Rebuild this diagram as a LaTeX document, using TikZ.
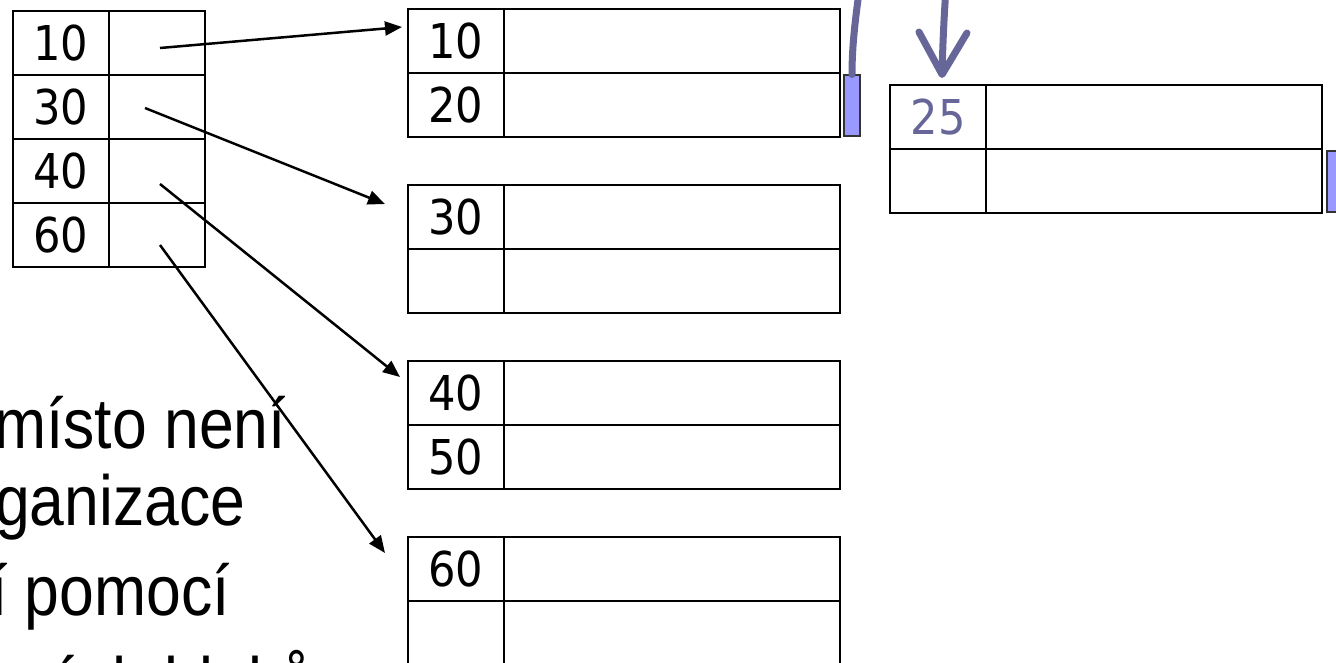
\documentclass[tikz,border=0pt]{standalone}
\usepackage{fontspec}
\usepackage{graphicx}
\usetikzlibrary{positioning,arrows.meta}
\newfontfamily\numfont{DejaVu Sans}
\newfontfamily\txtfont{Liberation Sans}
\definecolor{flowc}{HTML}{666699}
\definecolor{markc}{HTML}{9999FF}
\newcommand{\val}[1]{\scalebox{0.9}[1]{#1}}
\newcommand{\say}[1]{\scalebox{0.88}[1]{#1}}
\tikzset{
  cell/.style={draw, rectangle, line width=2pt, inner sep=0pt, outer sep=0pt,
    minimum height=64pt, font=\numfont\fontsize{48}{50}\selectfont},
  keycell/.style={cell, minimum width=96pt},
  datacell/.style={cell, minimum width=336pt},
  markbox/.style={draw=black!80, fill=markc, line width=2pt, inner sep=0pt,
    outer sep=0pt, minimum width=16pt, minimum height=61pt},
  ptr/.style={line width=2.5pt, -{Triangle[length=17pt,width=14pt]}},
  flow/.style={draw=flowc, line width=7pt, line cap=round},
  bullet/.style={anchor=base west, inner sep=0pt, font=\txtfont\fontsize{71}{80}\selectfont}
}
\begin{document}
\begin{tikzpicture}[x=1pt,y=-1pt]
  \useasboundingbox (0,0) rectangle (1336,662);
  \clip (0,0) rectangle (1336,662);

  \node[bullet] (l1) at (-6,448) {\say{místo není}};
  \node[bullet] (l2) at (-5,525) {\say{ganizace}};
  \node[bullet] (l3) at (-10,615) {\say{í pomocí}};
  \node[bullet] (l4) at (-16,707) {\say{ových bloků}};

  % index
  \node[keycell, anchor=north west] (i1k) at (13,11) {\val{10}};
  \node[keycell, right=0pt of i1k] (i1p) {};
  \node[keycell, below=0pt of i1k] (i2k) {\val{30}};
  \node[keycell, right=0pt of i2k] (i2p) {};
  \node[keycell, below=0pt of i2k] (i3k) {\val{40}};
  \node[keycell, right=0pt of i3k] (i3p) {};
  \node[keycell, below=0pt of i3k] (i4k) {\val{60}};
  \node[keycell, right=0pt of i4k] (i4p) {};

  % blocks
  \node[keycell, anchor=north west] (b1k1) at (408,9) {\val{10}};
  \node[datacell, right=0pt of b1k1] (b1d1) {};
  \node[keycell, below=0pt of b1k1] (b1k2) {\val{20}};
  \node[datacell, right=0pt of b1k2] (b1d2) {};

  \node[keycell, anchor=north west] (b2k1) at (408,185) {\val{30}};
  \node[datacell, right=0pt of b2k1] (b2d1) {};
  \node[keycell, below=0pt of b2k1] (b2k2) {};
  \node[datacell, right=0pt of b2k2] (b2d2) {};

  \node[keycell, anchor=north west] (b3k1) at (408,361) {\val{40}};
  \node[datacell, right=0pt of b3k1] (b3d1) {};
  \node[keycell, below=0pt of b3k1] (b3k2) {\val{50}};
  \node[datacell, right=0pt of b3k2] (b3d2) {};

  \node[keycell, anchor=north west] (b4k1) at (408,537) {\val{60}};
  \node[datacell, right=0pt of b4k1] (b4d1) {};
  \node[keycell, below=0pt of b4k1] (b4k2) {};
  \node[datacell, right=0pt of b4k2] (b4d2) {};

  % overflow
  \node[keycell, anchor=north west, text=flowc] (ok1) at (890,85) {\val{25}};
  \node[datacell, right=0pt of ok1] (od1) {};
  \node[keycell, below=0pt of ok1] (ok2) {};
  \node[datacell, right=0pt of ok2] (od2) {};

  \node[markbox, right=4pt of b1d2] (m1) {};
  \node[markbox, right=5pt of od2] (m2) {};

  \coordinate (s1) at (160,48);
  \coordinate (s2) at (145,108);
  \coordinate (s3) at (160,184);
  \coordinate (s4) at (160,245);
  \coordinate (e1) at (402,27);
  \coordinate (e2) at (385,204);
  \coordinate (e3) at (400,377);
  \coordinate (e4) at (385,553);
  \draw[ptr] (s1) -- (e1);
  \draw[ptr] (s2) -- (e2);
  \draw[ptr] (s3) -- (e3);
  \draw[ptr] (s4) -- (e4);

  \coordinate (c1) at (866,-60);
  \coordinate (c2) at (950,-60);
  \coordinate (e5) at (942,78);
  \draw[flow] (c1) .. controls (860,-10) and (852,30) .. (m1.north);
  \draw[flow, -{Straight Barb[length=42pt,width=48pt,round]}]
    (c2) .. controls (946,-20) and (943,30) .. (e5);
\end{tikzpicture}
\end{document}
